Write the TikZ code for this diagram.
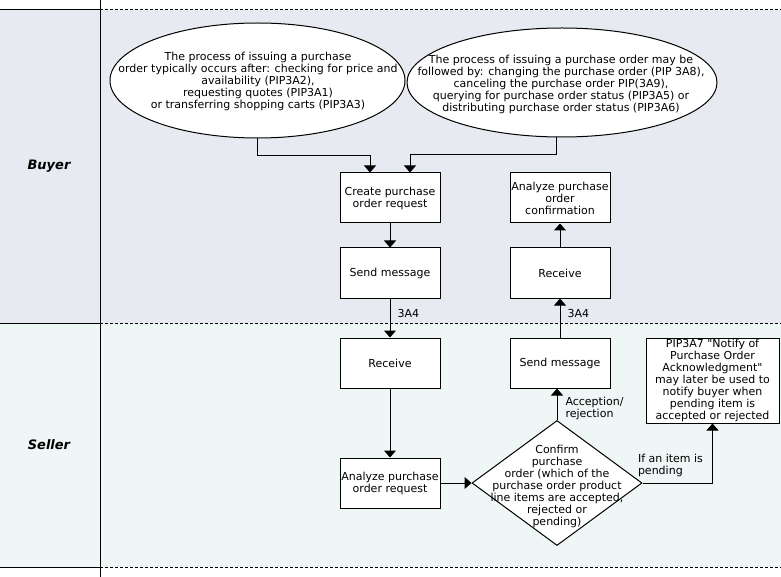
\documentclass[tikz,border=0pt]{standalone}
\usepackage{fontspec}
\setmainfont{DejaVu Sans}[Ligatures=TeXOff,BoldFont={DejaVu Sans Bold},ItalicFont={DejaVu Sans Oblique},BoldItalicFont={DejaVu Sans Bold Oblique}]
\usetikzlibrary{arrows.meta,shapes.geometric,calc}
\definecolor{buyerbg}{RGB}{231,234,240}
\definecolor{sellerbg}{RGB}{238,246,246}
\begin{document}
\begin{tikzpicture}[x=1pt,y=-1pt,
  every node/.style={font=\fontsize{11}{12}\selectfont},
  box/.style={draw, fill=white, line width=1pt, minimum width=100pt, minimum height=50pt, inner sep=0pt, align=center},
  oval/.style={draw, fill=white, ellipse, line width=1pt, inner sep=0pt},
  txt/.style={align=center, inner sep=0pt},
  lbl/.style={align=left, inner sep=0pt, anchor=west},
  arr/.style={line width=1pt, -{Triangle[width=12pt,length=7pt]}},
  solidline/.style={line width=1pt},
  dashline/.style={line width=1pt, dash pattern=on 3pt off 2pt},
  lanename/.style={font=\fontsize{13}{15}\selectfont\bfseries\itshape}
]
\useasboundingbox (0,0) rectangle (781,577);
% lanes
\fill[buyerbg] (0,10) rectangle (781,323);
\fill[sellerbg] (0,323) rectangle (781,567);
\draw[solidline] (0,10) -- (100,10);
\draw[dashline] (100,10) -- (781,10);
\draw[solidline] (0,323) -- (100,323);
\draw[dashline] (100,323) -- (781,323);
\draw[solidline] (0,567) -- (100,567);
\draw[dashline] (100,567) -- (781,567);
\draw[solidline] (100,0) -- (100,577);
\node[lanename] (buyer) at (49,166) {Buyer};
\node[lanename] (seller) at (49,445) {Seller};

% ellipses
\node[oval, minimum width=295pt, minimum height=115pt] (e1) at (257.5,80.5) {};
\node[oval, minimum width=310pt, minimum height=109pt] (e2) at (562,82.5) {};
\node[txt] (e1t) at (258,81) {The process of issuing a purchase\\order typically occurs after: checking for price and\\availability (PIP3A2),\\requesting quotes (PIP3A1)\\or transferring shopping carts (PIP3A3)};
\node[txt] (e2t) at (561,84) {The process of issuing a purchase order may be\\followed by: changing the purchase order (PIP 3A8),\\canceling the purchase order PIP(3A9),\\querying for purchase order status (PIP3A5) or\\distributing purchase order status (PIP3A6)};

% boxes
\node[box] (create) at (390,198) {Create purchase\\order request};
\node[box] (smsg1) at (390,273) {Send message};
\node[box] (aconf) at (560,198) {Analyze purchase\\order\\confirmation};
\node[box] (rcv1) at (560,273) {Receive};
\node[box] (rcv2) at (390,363) {Receive};
\node[box] (smsg2) at (560,363) {Send message};
\node[box] (areq) at (390,483) {Analyze purchase\\order request};
\node[draw, fill=white, diamond, line width=1pt, inner sep=0pt, minimum width=170pt, minimum height=125pt] (dia) at (557,483) {};
\node[txt] (diat) at (557,486) {Confirm\\purchase\\order (which of the\\purchase order product\\line items are accepted,\\rejected or\\pending)};
\node[box, minimum width=133pt, minimum height=85pt] (note) at (712.5,380.5) {PIP3A7 "Notify of\\Purchase Order\\Acknowledgment"\\may later be used to\\notify buyer when\\pending item is\\accepted or rejected};

% connectors
\draw[arr] (e1.south) -- ++(0,17) -| ([xshift=-20pt]create.north);
\draw[arr] ([xshift=-6pt]e2.south) -- ++(0,17) -| ([xshift=20pt]create.north);
\draw[arr] (create) -- (smsg1);
\draw[arr] (smsg1) -- node[lbl, pos=0.375, xshift=7pt] {3A4} (rcv2);
\draw[arr] (rcv2) -- (areq);
\draw[arr] (areq) -- (dia.west);
\draw[arr] (dia.north) -- node[lbl, pos=0.36, xshift=8pt] {Acception/\\rejection} (dia.north |- smsg2.south);
\draw[arr] (smsg2) -- node[lbl, pos=0.625, xshift=7pt] {3A4} (rcv1);
\draw[arr] (rcv1) -- (aconf);
\draw[arr] (dia.east) -| node[lbl, pos=0.0, xshift=-5pt, yshift=18pt] {If an item is\\pending} (note.south);
\end{tikzpicture}
\end{document}
